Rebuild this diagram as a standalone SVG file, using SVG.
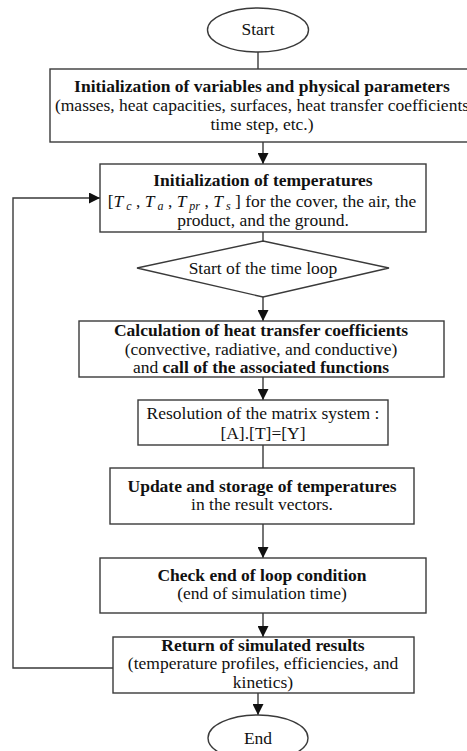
<svg xmlns="http://www.w3.org/2000/svg" width="467" height="751" viewBox="0 0 467 751">
<style>
.s{fill:#fff;stroke:#3a3a3a;stroke-width:1.4}
.c{fill:none;stroke:#3a3a3a;stroke-width:1.4}
text{font-family:"Liberation Serif","Times New Roman",serif;font-size:17.5px;fill:#111;text-anchor:middle}
.b{font-weight:bold}
.i{font-style:italic}
.sub{font-style:italic;font-size:12px}
</style>
<defs>
<marker id="ah" viewBox="0 0 10 10" refX="10" refY="5" markerWidth="11" markerHeight="11" markerUnits="userSpaceOnUse" orient="auto">
<path d="M0,0 L10,5 L0,10 z" fill="#111"/>
</marker>
</defs>
<rect width="467" height="751" fill="#fff"/>
<g id="connectors">
<line class="c" x1="258" y1="52" x2="258" y2="69"/>
<line class="c" x1="263" y1="142" x2="263" y2="164" marker-end="url(#ah)"/>
<line class="c" x1="263" y1="232" x2="263" y2="241"/>
<line class="c" x1="263" y1="297" x2="263" y2="321" marker-end="url(#ah)"/>
<line class="c" x1="263" y1="377" x2="263" y2="400" marker-end="url(#ah)"/>
<line class="c" x1="263" y1="445" x2="263" y2="468"/>
<line class="c" x1="263" y1="524" x2="263" y2="558" marker-end="url(#ah)"/>
<line class="c" x1="263" y1="613" x2="263" y2="637" marker-end="url(#ah)"/>
<line class="c" x1="258" y1="693" x2="258" y2="715" marker-end="url(#ah)"/>
<polyline class="c" points="113,668 13,668 13,198 100,198" marker-end="url(#ah)"/>
</g>
<g id="start">
<ellipse class="s" cx="258" cy="30" rx="50.5" ry="22"/>
<text x="258" y="35">Start</text>
</g>
<g id="init-vars">
<rect class="s" x="50" y="69" width="420" height="73"/>
<text class="b" x="262" y="92">Initialization of variables and physical parameters</text>
<text x="262" y="111">(masses, heat capacities, surfaces, heat transfer coefficients</text>
<text x="262" y="130">time step, etc.)</text>
</g>
<g id="init-temps">
<rect class="s" x="100" y="164" width="326" height="68"/>
<text class="b" x="263" y="186">Initialization of temperatures</text>
<text x="262" y="207">[<tspan class="i">T</tspan><tspan class="sub" dy="3"> c</tspan><tspan dy="-3"> , </tspan><tspan class="i">T</tspan><tspan class="sub" dy="3"> a</tspan><tspan dy="-3"> , </tspan><tspan class="i">T</tspan><tspan class="sub" dy="3"> pr</tspan><tspan dy="-3"> , </tspan><tspan class="i">T</tspan><tspan class="sub" dy="3"> s</tspan><tspan dy="-3"> ] for the cover, the air, the</tspan></text>
<text x="263" y="226">product, and the ground.</text>
</g>
<g id="time-loop">
<polygon class="s" points="263,241 389,268 263,297 137,268"/>
<text x="263" y="274">Start of the time loop</text>
</g>
<g id="calc-coeffs">
<rect class="s" x="79" y="321" width="365" height="56"/>
<text class="b" x="261" y="336">Calculation of heat transfer coefficients</text>
<text x="261" y="355">(convective, radiative, and conductive)</text>
<text x="261" y="373">and <tspan class="b">call of the associated functions</tspan></text>
</g>
<g id="matrix">
<rect class="s" x="138" y="400" width="250" height="45"/>
<text x="263" y="419">Resolution of the matrix system :</text>
<text x="263" y="439">[A].[T]=[Y]</text>
</g>
<g id="update">
<rect class="s" x="110" y="468" width="304" height="56"/>
<text class="b" x="262" y="492">Update and storage of temperatures</text>
<text x="262" y="510">in the result vectors.</text>
</g>
<g id="check">
<rect class="s" x="100" y="558" width="326" height="55"/>
<text class="b" x="262" y="581">Check end of loop condition</text>
<text x="262" y="599">(end of simulation time)</text>
</g>
<g id="return">
<rect class="s" x="113" y="637" width="301" height="56"/>
<text class="b" x="263" y="651">Return of simulated results</text>
<text x="263" y="669">(temperature profiles, efficiencies, and</text>
<text x="263" y="688">kinetics)</text>
</g>
<g id="end">
<ellipse class="s" cx="258" cy="738" rx="50" ry="23"/>
<text x="258" y="744">End</text>
</g>
</svg>
